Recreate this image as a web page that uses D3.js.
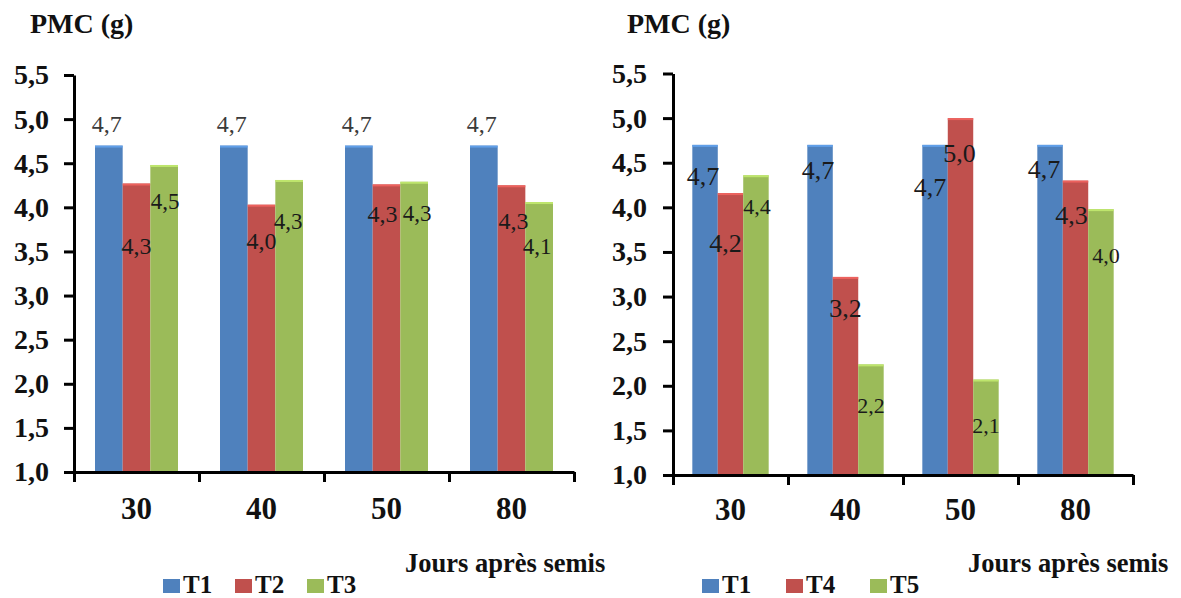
<!DOCTYPE html>
<html>
<head>
<meta charset="utf-8">
<script src="https://cdn.jsdelivr.net/npm/d3@7"></script>
<style>
  html, body { margin: 0; padding: 0; background: #fff; }
  svg { display: block; }
  svg text { font-family: "Liberation Serif", "Times New Roman", serif !important; }
</style>
</head>
<body>
<svg id="chart" width="1181" height="598" font-family="Liberation Serif"></svg>
<script>
// Days after sowing (categories)
const days = ["30", "40", "50", "80"];

// Treatments shown in each panel
const leftSeries = ["T1", "T2", "T3"];
const rightSeries = ["T1", "T4", "T5"];

// Thousand-grain weight (g) per treatment
const t1 = [4.70, 4.70, 4.70, 4.70];
const t2 = [4.27, 4.03, 4.26, 4.25];
const t3 = [4.48, 4.31, 4.29, 4.06];
const t4 = [4.16, 3.22, 5.00, 4.30];
const t5 = [4.36, 2.24, 2.07, 3.98];

// Axis ticks and texts
const yTicks = [1.0, 1.5, 2.0, 2.5, 3.0, 3.5, 4.0, 4.5, 5.0, 5.5];
const yTitle = "PMC (g)";
const xTitle = "Jours après semis";

const colors = { T1: "#4F81BD", T2: "#C0504D", T3: "#9BBB59", T4: "#C0504D", T5: "#9BBB59" };
const valuesBySeries = { T1: t1, T2: t2, T3: t3, T4: t4, T5: t5 };

const FONT = "'Liberation Serif', 'Times New Roman', serif";
const fmt = v => v.toFixed(1).replace(".", ",");

// Hand-placed data label offsets [dx, dy] from each bar's top centre
const leftLabelNudge = {
  T1: [[-2, -22], [-2, -22], [-2, -22], [-2, -22]],
  T2: [[0, 62], [0, 36], [-4, 29], [2, 36]],
  T3: [[1, 36], [-1, 41], [3, 31], [-2, 44]]
};
const rightLabelNudge = {
  T1: [[-2, 31], [-2, 25], [-5, 42], [-6, 24]],
  T4: [[-5, 50], [0, 31], [-1, 35], [-4, 35]],
  T5: [[1, 31], [0, 41], [0, 46], [5, 46]]
};

const svg = d3.select("#chart");

function drawPanel(cfg) {
  const g = svg.append("g").attr("font-family", FONT);

  const x = d3.scaleBand()
    .domain(days)
    .range([cfg.x0, cfg.x1])
    .paddingInner(0.336)
    .paddingOuter(0.168);

  const xs = d3.scaleBand()
    .domain(cfg.series)
    .range([0, x.bandwidth()])
    .padding(0);

  const y = d3.scaleLinear()
    .domain([1, 5.5])
    .range([cfg.yBot, cfg.yTop]);

  // Bars
  cfg.series.forEach(s => {
    const vals = valuesBySeries[s];
    const c = colors[s];
    g.selectAll(null)
      .data(days.map((d, i) => ({ d, v: vals[i] })))
      .join("rect")
      .attr("x", p => x(p.d) + xs(s))
      .attr("y", p => y(p.v))
      .attr("width", xs.bandwidth())
      .attr("height", p => y(1) - y(p.v))
      .attr("fill", c);
    // soft highlight along the bar top
    g.selectAll(null)
      .data(days.map((d, i) => ({ d, v: vals[i] })))
      .join("rect")
      .attr("x", p => x(p.d) + xs(s))
      .attr("y", p => y(p.v))
      .attr("width", xs.bandwidth())
      .attr("height", 2)
      .attr("fill", d3.color(c).brighter(0.7))
      .attr("opacity", 0.8);
  });

  // Y axis
  const yAxis = g.append("g")
    .attr("transform", `translate(${cfg.x0},0)`)
    .call(d3.axisLeft(y)
      .tickValues(yTicks)
      .tickFormat(fmt)
      .tickSize(10)
      .tickSizeOuter(0)
      .tickPadding(cfg.yPad))
    .attr("font-family", FONT);
  yAxis.select(".domain").attr("stroke", "#000").attr("stroke-width", 3);
  yAxis.selectAll(".tick line").attr("stroke", "#000").attr("stroke-width", 3);
  yAxis.selectAll(".tick text")
    .attr("fill", "#111")
    .attr("font-size", 28)
    .attr("font-weight", "bold");

  // X axis: boundary ticks between categories
  const bounds = d3.scaleLinear().domain([0, days.length]).range([cfg.x0, cfg.x1]);
  const xAxis = g.append("g")
    .attr("transform", `translate(0,${cfg.yBot})`)
    .call(d3.axisBottom(bounds)
      .tickValues(d3.range(days.length + 1))
      .tickFormat("")
      .tickSize(10)
      .tickSizeOuter(0));
  xAxis.select(".domain").attr("stroke", "#000").attr("stroke-width", 3);
  xAxis.selectAll(".tick line").attr("stroke", "#000").attr("stroke-width", 3);

  // X axis: category labels
  const xLab = g.append("g")
    .attr("transform", `translate(0,${cfg.yBot})`)
    .call(d3.axisBottom(x).tickSize(0).tickPadding(cfg.xPad))
    .attr("font-family", FONT);
  xLab.select(".domain").remove();
  xLab.selectAll(".tick text")
    .attr("fill", "#111")
    .attr("font-size", 31)
    .attr("font-weight", "bold");

  // Data labels
  cfg.series.forEach(s => {
    const vals = valuesBySeries[s];
    const nudge = cfg.nudge[s];
    const st = cfg.labelStyle[s];
    g.selectAll(null)
      .data(days.map((d, i) => ({ d, v: vals[i], n: nudge[i] })))
      .join("text")
      .attr("x", p => x(p.d) + xs(s) + xs.bandwidth() / 2 + p.n[0])
      .attr("y", p => y(p.v) + p.n[1])
      .attr("dy", "0.34em")
      .attr("text-anchor", "middle")
      .attr("font-size", st.size)
      .attr("fill", st.fill)
      .text(p => fmt(p.v));
  });

  // Axis titles
  g.append("text")
    .attr("x", cfg.yTitleX)
    .attr("y", 33)
    .attr("font-size", 28)
    .attr("font-weight", "bold")
    .attr("fill", "#111")
    .text(yTitle);

  g.append("text")
    .attr("x", cfg.xTitleX)
    .attr("y", 572)
    .attr("font-size", 26.5)
    .attr("font-weight", "bold")
    .attr("fill", "#111")
    .text(xTitle);

  // Legend
  const leg = g.selectAll(null)
    .data(cfg.series)
    .join("g")
    .attr("transform", (s, i) => `translate(${cfg.legX + i * cfg.legStep},0)`);
  leg.append("rect")
    .attr("x", 0).attr("y", 579)
    .attr("width", 17).attr("height", 14)
    .attr("fill", s => colors[s]);
  leg.append("text")
    .attr("x", 20).attr("y", 593)
    .attr("font-size", 25)
    .attr("font-weight", "bold")
    .attr("fill", "#111")
    .text(s => s);
}

drawPanel({
  series: leftSeries,
  x0: 74, x1: 574, yTop: 75, yBot: 472,
  yPad: 15, xPad: 25,
  nudge: leftLabelNudge,
  labelStyle: {
    T1: { size: 24, fill: "#3a3a3a" },
    T2: { size: 24, fill: "#1a1a1a" },
    T3: { size: 23, fill: "#1a1a1a" }
  },
  yTitleX: 30, xTitleX: 405,
  legX: 163, legStep: 72
});

drawPanel({
  series: rightSeries,
  x0: 673, x1: 1133, yTop: 73.5, yBot: 475,
  yPad: 16, xPad: 23,
  nudge: rightLabelNudge,
  labelStyle: {
    T1: { size: 26, fill: "#1a1a1a" },
    T4: { size: 26, fill: "#1a1a1a" },
    T5: { size: 22, fill: "#1a1a1a" }
  },
  yTitleX: 627, xTitleX: 968,
  legX: 702, legStep: 84
});
</script>
</body>
</html>
